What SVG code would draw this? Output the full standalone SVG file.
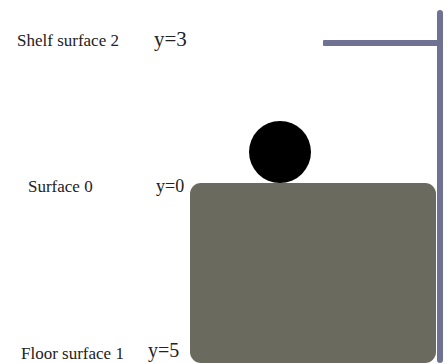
<svg xmlns="http://www.w3.org/2000/svg" width="447" height="363" viewBox="0 0 447 363">
<style>
.lbl{font-family:"Liberation Serif","Times New Roman",serif;fill:#222;font-size:17px}
.val{font-family:"Liberation Serif","Times New Roman",serif;fill:#222}
.post{fill:#6f7293}
</style>
<rect width="447" height="363" fill="#fff"/>
<g id="labels">
<text class="lbl" x="17" y="46">Shelf surface 2</text>
<text class="val" x="154" y="46" font-size="21">y=3</text>
<text class="lbl" x="28" y="192">Surface 0</text>
<text class="val" x="156" y="192" font-size="18">y=0</text>
<text class="lbl" x="21" y="359">Floor surface 1</text>
<text class="val" x="148" y="357" font-size="20">y=5</text>
</g>
<g id="shelf">
<rect class="post" x="437" y="10" width="6" height="353" rx="3"/>
<rect class="post" x="323" y="40" width="116" height="6" rx="1"/>
</g>
<g id="table">
<rect x="190" y="183" width="246" height="180" rx="11" fill="#6a6a5e"/>
</g>
<g id="ball">
<circle cx="280" cy="152" r="31" fill="#000"/>
</g>
</svg>
